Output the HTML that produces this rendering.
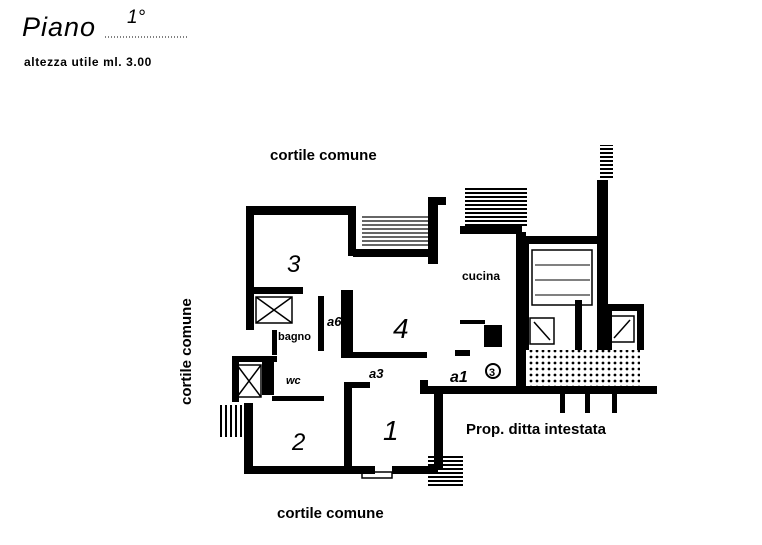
<!DOCTYPE html>
<html><head><meta charset="utf-8"><style>
html,body{margin:0;padding:0;background:#fff;}
svg{display:block;}
text{font-family:"Liberation Sans",sans-serif;fill:#000;}
</style></head><body>
<svg width="762" height="545" viewBox="0 0 762 545" xmlns="http://www.w3.org/2000/svg">
<defs>
<pattern id="dots" width="6" height="6" patternUnits="userSpaceOnUse"><circle cx="3" cy="3" r="1.4" fill="#000"/></pattern>
<pattern id="hs" width="4" height="4" patternUnits="userSpaceOnUse"><rect width="4" height="2" fill="#000"/></pattern>
<pattern id="vs" width="5" height="4" patternUnits="userSpaceOnUse"><rect width="2" height="4" fill="#000"/></pattern>
</defs>
<text x="22" y="36" font-size="27" font-style="italic" letter-spacing="1">Piano</text>
<text x="127" y="23" font-size="19" font-style="italic">1°</text>
<line x1="105" y1="37" x2="188" y2="37" stroke="#000" stroke-width="1" stroke-dasharray="1,2"/>
<text x="24" y="66" font-size="12" font-weight="bold" letter-spacing="0.6">altezza utile ml. 3.00</text>
<text x="270" y="160" font-size="15" font-weight="bold">cortile comune</text>
<text x="277" y="518" font-size="15" font-weight="bold">cortile comune</text>
<text x="0" y="0" font-size="15" font-weight="bold" transform="translate(191,405) rotate(-90)">cortile comune</text>
<text x="466" y="434" font-size="15" font-weight="bold">Prop. ditta intestata</text>
<g fill="#000">
<rect x="246" y="206" width="110" height="9"/>
<rect x="246" y="206" width="8" height="91"/>
<rect x="348" y="206" width="8" height="50"/>
<rect x="246" y="287" width="57" height="7"/>
<rect x="246" y="290" width="8" height="40"/>
<rect x="353" y="249" width="78" height="8"/>
<rect x="341" y="290" width="12" height="68"/>
<rect x="341" y="352" width="86" height="6"/>
<rect x="318" y="296" width="6" height="55"/>
<rect x="428" y="197" width="10" height="67"/>
<rect x="428" y="197" width="18" height="8"/>
<rect x="460" y="226" width="62" height="8"/>
<rect x="516" y="232" width="10" height="156"/>
<rect x="460" y="320" width="25" height="4"/>
<rect x="484" y="325" width="18" height="22"/>
<rect x="455" y="350" width="15" height="6"/>
<rect x="420" y="386" width="237" height="8"/>
<rect x="434" y="390" width="9" height="80"/>
<rect x="344" y="382" width="8" height="91"/>
<rect x="344" y="382" width="26" height="6"/>
<rect x="420" y="380" width="8" height="12"/>
<rect x="244" y="466" width="131" height="8"/>
<rect x="392" y="466" width="46" height="8"/>
<rect x="244" y="403" width="9" height="71"/>
<rect x="232" y="356" width="45" height="6"/>
<rect x="232" y="356" width="7" height="46"/>
<rect x="262" y="360" width="12" height="35"/>
<rect x="272" y="396" width="52" height="5"/>
<rect x="272" y="330" width="5" height="25"/>
<rect x="522" y="236" width="80" height="8"/>
<rect x="522" y="236" width="7" height="114"/>
<rect x="597" y="180" width="11" height="170"/>
<rect x="575" y="300" width="7" height="50"/>
<rect x="607" y="304" width="36" height="7"/>
<rect x="637" y="304" width="7" height="46"/>
<rect x="607" y="304" width="5" height="46"/>
<rect x="640" y="386" width="17" height="8"/>
<rect x="560" y="393" width="5" height="20"/>
<rect x="585" y="393" width="5" height="20"/>
<rect x="612" y="393" width="5" height="20"/>
</g>
<rect x="465" y="188" width="62" height="38" fill="url(#hs)"/>
<rect x="362" y="214" width="66" height="34" fill="url(#hs)" opacity="0.6"/>
<rect x="428" y="455" width="35" height="33" fill="url(#hs)"/>
<rect x="600" y="145" width="13" height="35" fill="url(#hs)"/>
<rect x="219" y="405" width="24" height="32" fill="url(#vs)"/>
<rect x="532" y="250" width="60" height="55" fill="none" stroke="#000" stroke-width="1.5"/>
<path d="M535 265h55M535 280h55M535 295h55" stroke="#000" stroke-width="1"/>
<rect x="527" y="350" width="113" height="38" fill="url(#dots)"/>
<g fill="none" stroke="#000" stroke-width="1.5">
<rect x="256" y="297" width="36" height="26"/><path d="M256 297l36 26M292 297l-36 26"/>
<rect x="237" y="365" width="24" height="32"/><path d="M237 365l24 32M261 365l-24 32"/>
<rect x="530" y="318" width="24" height="26"/><path d="M534 322l16 18"/>
<rect x="610" y="316" width="24" height="26"/><path d="M614 338l16 -18"/>
<rect x="362" y="472" width="30" height="6"/>
</g>
<text x="287" y="272" font-size="24" font-family="Liberation Serif" font-style="italic">3</text>
<text x="393" y="338" font-size="28" font-family="Liberation Serif" font-style="italic">4</text>
<text x="383" y="440" font-size="28" font-family="Liberation Serif" font-style="italic">1</text>
<text x="292" y="450" font-size="24" font-family="Liberation Serif" font-style="italic">2</text>
<text x="462" y="280" font-size="12" font-weight="bold">cucina</text>
<text x="278" y="340" font-size="11" font-weight="bold">bagno</text>
<text x="286" y="384" font-size="11" font-style="italic" font-weight="bold">wc</text>
<text x="327" y="326" font-size="13" font-style="italic" font-weight="bold">a6</text>
<text x="450" y="382" font-size="16" font-style="italic" font-weight="bold">a1</text>
<text x="369" y="378" font-size="13" font-style="italic" font-weight="bold">a3</text>
<text x="487" y="342" font-size="12" font-style="italic" font-weight="bold">a8</text>
<circle cx="493" cy="371" r="7" fill="none" stroke="#000" stroke-width="2"/>
<text x="489" y="376" font-size="11" font-weight="bold">3</text>
</svg>
</body></html>
